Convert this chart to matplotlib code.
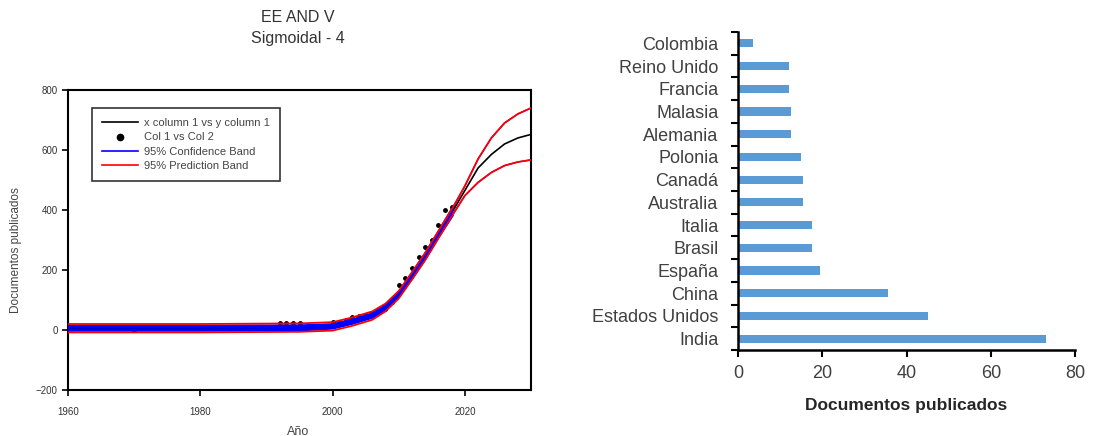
import numpy as np
import matplotlib
matplotlib.use('Agg')
import matplotlib.pyplot as plt
from matplotlib.lines import Line2D

plt.rcParams['font.family'] = ['Liberation Sans', 'DejaVu Sans']

# Curva ajustada (Sigmoidal 4 parámetros)
fit_years = [1960, 1980, 1995, 2000, 2003, 2006, 2008, 2010, 2012, 2014, 2016, 2018, 2020, 2022, 2024, 2026, 2028, 2030]
fit_vals = [5, 5, 7, 12, 28, 48, 75, 118, 180, 245, 318, 390, 465, 540, 585, 620, 640, 652]

# Bandas de confianza y predicción (95%)
conf_upper = [12, 12, 13, 17, 33, 53, 80, 123, 186, 251, 323, 398, 480, 570, 640, 690, 720, 740]
conf_lower = [0, 0, 1, 7, 23, 43, 70, 113, 174, 239, 312, 380, 448, 492, 525, 548, 560, 567]
pred_upper = [20, 20, 22, 26, 42, 62, 88, 130, 192, 257, 330, 402, 480, 570, 640, 690, 720, 740]
pred_lower = [-8, -8, -6, -2, 14, 34, 62, 105, 168, 233, 306, 378, 448, 492, 525, 548, 560, 567]

# Datos observados (Col 1 vs Col 2)
obs_years = [1970, 1992, 1993, 1994, 1995, 1996, 2000, 2001, 2002, 2003, 2004, 2005, 2006,
             2007, 2008, 2009, 2010, 2011, 2012, 2013, 2014, 2015, 2016, 2017, 2018]
obs_vals = [0, 22, 22, 22, 22, 5, 28, 22, 35, 42, 48, 50, 58,
            62, 70, 95, 150, 172, 208, 245, 278, 300, 350, 400, 410]

# Documentos por país
paises = ['India', 'Estados Unidos', 'China', 'España', 'Brasil', 'Italia', 'Australia',
          'Canadá', 'Polonia', 'Alemania', 'Malasia', 'Francia', 'Reino Unido', 'Colombia']
documentos = [73, 45, 35.5, 19.5, 17.5, 17.5, 15.5, 15.5, 15, 12.5, 12.5, 12, 12, 3.5]

fig = plt.figure(figsize=(10.94, 4.36), dpi=100)

# --- Gráfico izquierdo: ajuste sigmoidal ---
ax1 = fig.add_axes([68 / 1094, 1 - 390 / 436, 463 / 1094, 300 / 436])
ax1.plot(fit_years, fit_vals, color='black', lw=1.2, zorder=2)
ax1.plot(obs_years, obs_vals, 'o', color='black', markersize=2.5, zorder=3)
# banda de confianza: gruesa hasta 2018, fina después (queda bajo la roja)
k = fit_years.index(2018) + 1
ax1.plot(fit_years[:k], conf_upper[:k], color='blue', lw=2.5, zorder=4)
ax1.plot(fit_years[:k], conf_lower[:k], color='blue', lw=2.5, zorder=4)
ax1.plot(fit_years[k - 1:], conf_upper[k - 1:], color='blue', lw=1.0, zorder=4)
ax1.plot(fit_years[k - 1:], conf_lower[k - 1:], color='blue', lw=1.0, zorder=4)
ax1.plot(fit_years, pred_upper, color='red', lw=1.3, zorder=5)
ax1.plot(fit_years, pred_lower, color='red', lw=1.3, zorder=5)

ax1.set_xlim(1960, 2030)
ax1.set_ylim(-200, 800)
ax1.set_xticks([1960, 1980, 2000, 2020])
ax1.set_yticks([-200, 0, 200, 400, 600, 800])
for s in ax1.spines.values():
    s.set_linewidth(1.5)
ax1.tick_params(direction='out', length=4, width=1.2, labelsize=7, colors='black',
                labelcolor='#333333')
ax1.tick_params(axis='x', pad=8)

handles = [
    Line2D([], [], color='black', lw=1.2),
    Line2D([], [], color='black', marker='o', ls='none', markersize=4.5),
    Line2D([], [], color='blue', lw=1.2),
    Line2D([], [], color='red', lw=1.2),
]
labels = ['x column 1 vs y column 1', 'Col 1 vs Col 2', '95% Confidence Band', '95% Prediction Band']
leg = ax1.legend(handles, labels, loc='upper left', bbox_to_anchor=(0.052, 0.94),
                 borderaxespad=0, fontsize=8, frameon=True, fancybox=False, handlelength=3.2,
                 labelspacing=0.4, borderpad=0.9, handletextpad=0.6)
leg.get_frame().set_edgecolor('black')
leg.get_frame().set_linewidth(1.2)
for t in leg.get_texts():
    t.set_color('#444444')

fig.text(298 / 1094, 1 - 18 / 436, 'EE AND V', ha='center', va='center', fontsize=11.5, color='#333333')
fig.text(298 / 1094, 1 - 38 / 436, 'Sigmoidal - 4', ha='center', va='center', fontsize=11.5, color='#333333')
fig.text(16 / 1094, 1 - 250 / 436, 'Documentos publicados', ha='center', va='center',
         rotation=90, fontsize=8.5, color='#444444')
fig.text(298 / 1094, 1 - 432 / 436, 'Año', ha='center', va='center', fontsize=9, color='#444444')

# --- Gráfico derecho: documentos por país ---
ax2 = fig.add_axes([738 / 1094, 1 - 350 / 436, 337 / 1094, 318 / 436])
y = np.arange(len(paises))
ax2.barh(y, documentos, height=0.36, color='#5B9BD5')
ax2.set_ylim(-0.5, len(paises) - 0.5)
ax2.set_xlim(0, 80)
ax2.set_xticks([0, 20, 40, 60, 80])
ax2.set_yticks(y)
ax2.set_yticklabels(paises)
ax2.set_yticks(np.arange(len(paises) + 1) - 0.5, minor=True)
ax2.tick_params(axis='y', which='major', length=0, pad=14, labelsize=13, labelcolor='#404040')
ax2.tick_params(axis='y', which='minor', length=5, width=1.5, direction='out')
ax2.tick_params(axis='x', length=5, width=1.5, direction='out', labelsize=13,
                labelcolor='#404040', pad=6)
ax2.spines['top'].set_visible(False)
ax2.spines['right'].set_visible(False)
ax2.spines['left'].set_linewidth(1.8)
ax2.spines['bottom'].set_linewidth(1.8)
ax2.set_xlabel('Documentos publicados', fontsize=12.5, fontweight='bold', color='#262626', labelpad=11)

fig.savefig('out.png', dpi=100)
